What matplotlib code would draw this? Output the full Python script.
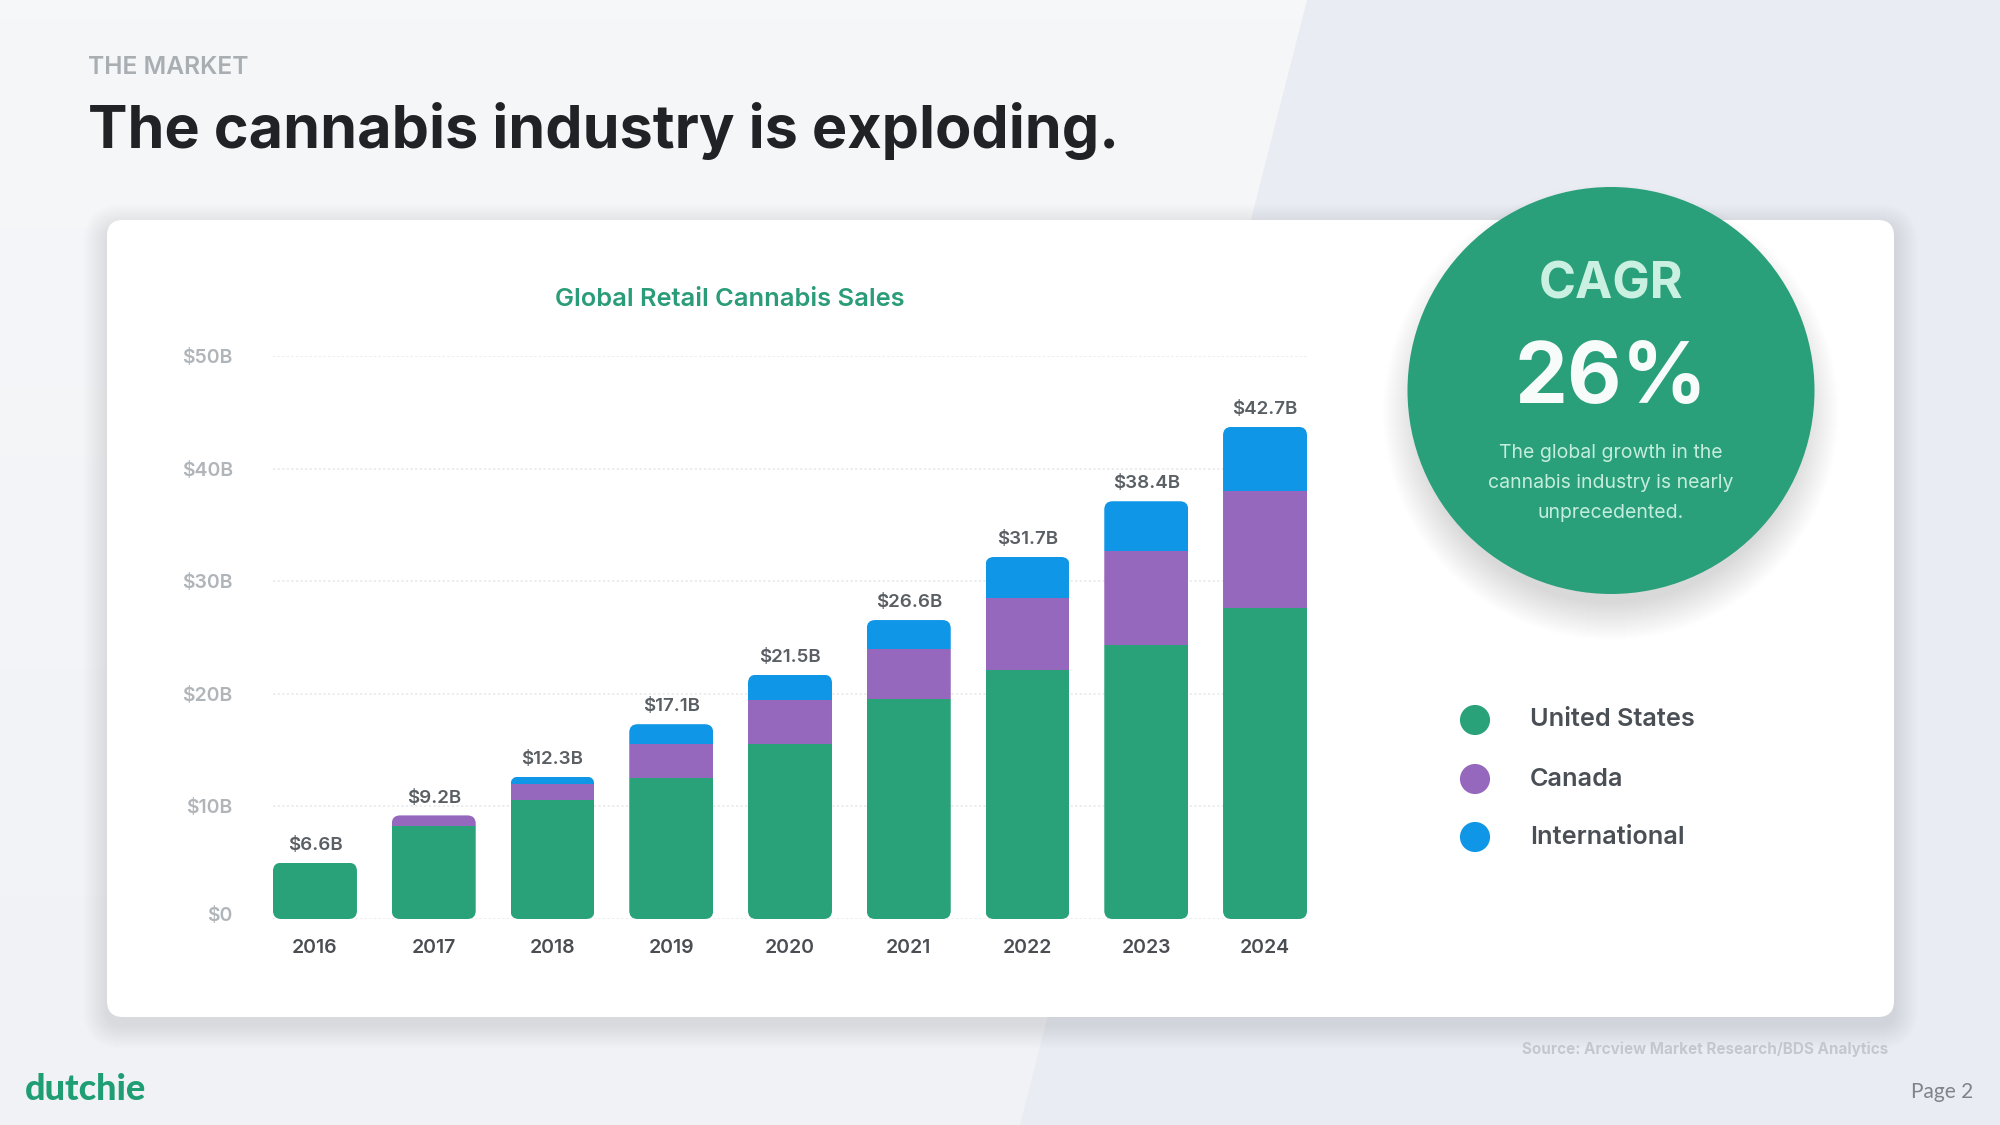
import numpy as np
import matplotlib
matplotlib.use("Agg")
import matplotlib.pyplot as plt
from matplotlib.patches import Circle, FancyBboxPatch, Polygon
from matplotlib.transforms import ScaledTranslation

BOLD_FONT = ['Inter', 'DejaVu Sans']
plt.rcParams['font.family'] = ['Lato', 'DejaVu Sans']

W, H = 2000, 1125

GREEN = "#29a27a"
PURPLE = "#9567bd"
BLUE = "#0f96e6"

years = ["2016", "2017", "2018", "2019", "2020", "2021", "2022", "2023", "2024"]
totals = ["$6.6B", "$9.2B", "$12.3B", "$17.1B", "$21.5B", "$26.6B", "$31.7B", "$38.4B", "$42.7B"]
# the bars don't quite agree with their labels
us = [5.0, 8.3, 10.55, 12.55, 15.55, 19.5, 22.1, 24.3, 27.6]
canada = [0.0, 0.9, 1.4, 3.0, 3.9, 4.5, 6.4, 8.4, 10.4]
intl = [0.0, 0.0, 0.7, 1.75, 2.25, 2.55, 3.65, 4.4, 5.7]
y_ticks = [0, 10, 20, 30, 40, 50]
y_labels = ["$0", "$10B", "$20B", "$30B", "$40B", "$50B"]
legend_names = ["United States", "Canada", "International"]
legend_colors = [GREEN, PURPLE, BLUE]
legend_y = [720, 779, 837]
body_lines = ["The global growth in the", "cannabis industry is nearly", "unprecedented."]
body_y = [453, 483, 513]


def soft_shadow(bg, make_patch, steps=14):
    for i in range(steps):
        bg.add_patch(make_patch(steps - i))


def draw_background(fig):
    bg = fig.add_axes([0, 0, 1, 1], zorder=0)
    bg.set_xlim(0, W)
    bg.set_ylim(H, 0)
    bg.axis("off")

    # left side of the slide, very light vertical fade
    fade = np.linspace(0, 1, 64).reshape(-1, 1)
    bg.imshow(fade, extent=(0, W, H, 0), aspect="auto", zorder=0,
              cmap=matplotlib.colors.LinearSegmentedColormap.from_list(
                  "slide", ["#f6f7f9", "#f0f2f6"]))
    bg.add_patch(Polygon([(1307, 0), (W, 0), (W, H), (1020, H)],
                         fc="#eaecf3", ec="none", zorder=1))

    # card shadow
    def card_shadow(grow):
        return FancyBboxPatch((107 - grow, 220 - grow + 8), 1787 + 2 * grow, 797 + 2 * grow,
                              boxstyle="round,pad=0,rounding_size=%d" % (16 + grow),
                              fc="#9aa5b5", ec="none", alpha=0.009, zorder=2)
    soft_shadow(bg, card_shadow, steps=24)
    bg.add_patch(FancyBboxPatch((107, 220), 1787, 797,
                                boxstyle="round,pad=0,rounding_size=16",
                                fc="white", ec="none", zorder=3))

    # CAGR circle
    def circle_shadow(grow):
        return Circle((1611, 412), 190 + grow, fc="#8a93a3", ec="none", alpha=0.005, zorder=4)
    soft_shadow(bg, circle_shadow, steps=38)
    bg.add_patch(Circle((1611, 390.5), 203.5, fc="#2aa07a", ec="none", zorder=5))
    return bg


def draw_bars(fig):
    ax = fig.add_axes([273 / W, 1 - 919 / H, (1307 - 273) / W, (919 - 356) / H], zorder=1)
    ax.patch.set_alpha(0)
    for side in ax.spines.values():
        side.set_visible(False)

    x = np.arange(len(years))
    bar_w = 0.707
    ax.set_xlim(-0.5 * bar_w, len(years) - 1 + 0.5 * bar_w)
    ax.set_ylim(0, 50)
    ax.set_axisbelow(True)
    ax.yaxis.grid(True, color="#e6e8ea", lw=1.1, ls=(0, (1.5, 1.5)))
    ax.xaxis.grid(False)

    us_a = np.array(us)
    ca_a = np.array(canada)
    in_a = np.array(intl)
    stacks = [ax.bar(x, us_a, bar_w, color=GREEN, zorder=2),
              ax.bar(x, ca_a, bar_w, bottom=us_a, color=PURPLE, zorder=2),
              ax.bar(x, in_a, bar_w, bottom=us_a + ca_a, color=BLUE, zorder=2)]
    tops = us_a + ca_a + in_a

    # rounded corners: clip each whole stack to one rounded box
    aspect = (118.75 / 11.26)
    for i in range(len(years)):
        box = FancyBboxPatch((x[i] - bar_w / 2, 0), bar_w, tops[i],
                             boxstyle="round,pad=0,rounding_size=0.07",
                             mutation_aspect=aspect, transform=ax.transData)
        for stack in stacks:
            stack[i].set_clip_path(box)
        ax.annotate(totals[i], (x[i], tops[i]), xytext=(0, 12.5), textcoords="offset points",
                    ha="center", va="center", fontsize=13.5, fontweight="semibold",
                    family=BOLD_FONT, color="#5a5f64", annotation_clip=False)

    ax.set_xticks(x, years)
    ax.set_yticks(y_ticks, y_labels)
    ax.tick_params(axis="x", length=0, pad=14.5, labelsize=14, labelcolor="#4a4e53")
    ax.tick_params(axis="y", length=0, pad=29, labelsize=14, labelcolor="#b0b5ba")
    for lab in ax.get_xticklabels():
        lab.set_fontweight("semibold")
        lab.set_family(BOLD_FONT)
    for lab in ax.get_yticklabels():
        lab.set_fontweight("semibold")
        lab.set_family(BOLD_FONT)
    # $0 sits a little above its grid line in the slide
    zero = ax.get_yticklabels()[0]
    zero.set_transform(zero.get_transform() + ScaledTranslation(0, 0.05, fig.dpi_scale_trans))
    return ax


def draw_text(bg):
    def put(x, y, s, **kw):
        kw.setdefault("va", "center")
        kw.setdefault("zorder", 8)
        bg.text(x, y, s, **kw)

    put(88, 68, "THE MARKET", fontsize=17.7, fontweight="semibold", color="#a9aeb3", family=BOLD_FONT)
    put(88, 131, "The cannabis industry is exploding.", fontsize=42.7, fontweight="bold",
        color="#212226", family=BOLD_FONT)
    put(730, 299, "Global Retail Cannabis Sales", fontsize=18.3, fontweight="semibold",
        color="#2a9c78", ha="center", family=BOLD_FONT)

    put(1611, 285, "CAGR", fontsize=36, fontweight="bold", color="#c9f0e1", ha="center", family=BOLD_FONT)
    put(1611, 380, "26%", fontsize=60.5, fontweight="bold", color="#f7fbfa", ha="center", family=BOLD_FONT)
    for line, y in zip(body_lines, body_y):
        put(1611, y, line, fontsize=14, color="#c5eddd", ha="center", family=BOLD_FONT)

    bg.scatter([1475] * len(legend_y), legend_y, s=470, c=legend_colors, linewidths=0, zorder=8)
    for name, y in zip(legend_names, legend_y):
        put(1530, y, name, fontsize=18.2, fontweight="semibold", color="#4a4f55", family=BOLD_FONT)

    put(1888, 1049, "Source: Arcview Market Research/BDS Analytics", fontsize=11, fontweight="bold",
        color="#c3c8d0", ha="right", family=BOLD_FONT)
    put(1973, 1092, "Page 2", fontsize=15, color="#7f848b", ha="right")
    put(25, 1089, "dutchie", fontsize=26, fontweight="black", color="#1f9d73")


def main():
    fig = plt.figure(figsize=(W / 100, H / 100), dpi=100)
    bg = draw_background(fig)
    draw_bars(fig)
    draw_text(bg)
    fig.savefig("out.png", dpi=100)


if __name__ == "__main__":
    main()
